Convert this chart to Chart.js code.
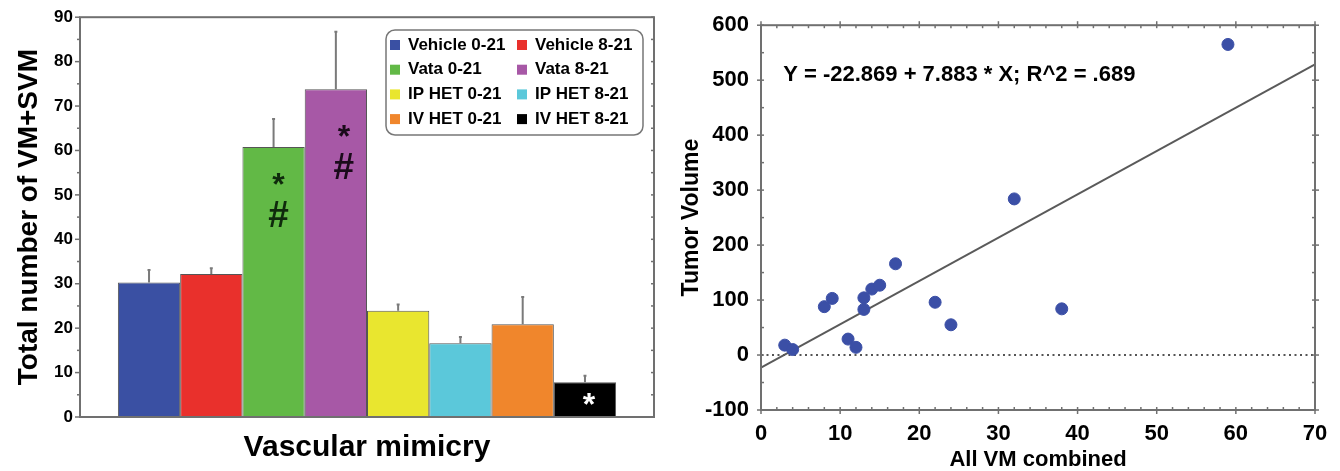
<!DOCTYPE html>
<html>
<head>
<meta charset="utf-8">
<script src="https://cdn.jsdelivr.net/npm/chart.js@4.4.0/dist/chart.umd.min.js"></script>
<style>
html, body { margin: 0; padding: 0; background: #fff; }
#wrap { position: relative; width: 1340px; height: 471px; }
#left { position: absolute; left: 0; top: 0; }
#right { position: absolute; left: 680px; top: 0; }
</style>
</head>
<body>
<div id="wrap">
  <canvas id="left" width="680" height="471"></canvas>
  <canvas id="right" width="660" height="471"></canvas>
</div>
<script>
// bar chart (left)
const groupLabels = ['Vascular mimicry'];
const seriesNames = ['Vehicle 0-21', 'Vehicle 8-21', 'Vata 0-21', 'Vata 8-21', 'IP HET 0-21', 'IP HET 8-21', 'IV HET 0-21', 'IV HET 8-21'];
const seriesMeans = [30.3, 32.2, 60.8, 73.8, 23.9, 16.6, 20.9, 7.8];
const seriesErrTop = [33.1, 33.5, 67.1, 86.7, 25.3, 18.0, 27.0, 9.3];
const seriesColors = ['#3a50a3', '#e9302c', '#62b946', '#a758a6', '#e9e62f', '#5bc8da', '#f0862c', '#000000'];

// scatter (right)
const vmCombined = [3, 4, 8, 9, 11, 12, 13, 13, 14, 15, 17, 22, 24, 32, 38, 59];
const tumorVolume = [18, 10, 88, 103, 29, 14, 104, 83, 120, 127, 166, 96, 55, 284, 84, 565];
const fitIntercept = -22.869;
const fitSlope = 7.883;
const fitR2 = '.689';
const fitRange = [0, 70];

const SANS = '"Liberation Sans", Arial, sans-serif';

// box + tick marks around the plot area
const framePlugin = {
    id: 'frame',
    afterDatasetsDraw(chart, args, o) {
        const { ctx, chartArea: a, scales } = chart;
        ctx.save();
        ctx.strokeStyle = o.color;
        ctx.lineWidth = o.width;
        ctx.strokeRect(a.left, a.top, a.right - a.left, a.bottom - a.top);
        const seg = function (x1, y1, x2, y2) {
            ctx.beginPath(); ctx.moveTo(x1, y1); ctx.lineTo(x2, y2); ctx.stroke();
        };
        const marks = function (scale, div) {
            const out = [];
            const t = scale.ticks.map(k => k.value);
            t.forEach(function (v, i) {
                out.push([scale.getPixelForValue(v), true]);
                if (i < t.length - 1) {
                    for (let j = 1; j < div; j++) out.push([scale.getPixelForValue(v + (t[i + 1] - v) * j / div), false]);
                }
            });
            return out;
        };
        ctx.lineWidth = 1.5;
        if (o.y) {
            marks(scales.y, o.y.div).forEach(function ([p, major]) {
                const L = major ? o.y.left[0] : o.y.left[1];
                const R = major ? o.y.right[0] : o.y.right[1];
                if (L[0] || L[1]) seg(a.left - L[0], p, a.left + L[1], p);
                if (R[0] || R[1]) seg(a.right - R[1], p, a.right + R[0], p);
            });
        }
        if (o.x) {
            marks(scales.x, o.x.div).forEach(function ([p, major]) {
                const B = major ? o.x.bottom[0] : o.x.bottom[1];
                const T = major ? o.x.top[0] : o.x.top[1];
                if (B[0] || B[1]) seg(p, a.bottom - B[1], p, a.bottom + B[0]);
                if (T[0] || T[1]) seg(p, a.top - T[0], p, a.top + T[1]);
            });
        }
        ctx.restore();
    }
};

// upper error whiskers
const errorBarPlugin = {
    id: 'errorBars',
    afterDatasetsDraw(chart, args, o) {
        const { ctx } = chart;
        ctx.save();
        ctx.strokeStyle = o.color;
        ctx.lineWidth = o.width;
        chart.data.datasets.forEach(function (ds, i) {
            const bar = chart.getDatasetMeta(i).data[0];
            const yTop = chart.scales.y.getPixelForValue(ds.errorTop);
            ctx.beginPath();
            ctx.moveTo(bar.x, bar.y);
            ctx.lineTo(bar.x, yTop);
            ctx.moveTo(bar.x - 1.5, yTop);
            ctx.lineTo(bar.x + 1.5, yTop);
            ctx.stroke();
        });
        ctx.restore();
    }
};

// significance marks inside bars
const markPlugin = {
    id: 'marks',
    afterDatasetsDraw(chart, args, o) {
        const { ctx } = chart;
        ctx.save();
        ctx.textAlign = 'center';
        ctx.textBaseline = 'alphabetic';
        o.items.forEach(function (t) {
            const bar = chart.getDatasetMeta(t.ds).data[0];
            ctx.font = t.font;
            ctx.fillStyle = t.color;
            const m = ctx.measureText(t.text);
            const cy = bar.y + t.below;
            ctx.fillText(t.text, bar.x + t.dx, cy + (m.actualBoundingBoxAscent - m.actualBoundingBoxDescent) / 2);
        });
        ctx.restore();
    }
};

// two-column legend in a rounded box
const boxLegendPlugin = {
    id: 'boxLegend',
    afterDatasetsDraw(chart, args, o) {
        const { ctx } = chart;
        ctx.save();
        ctx.beginPath();
        ctx.roundRect(o.x, o.y, o.w, o.h, o.r);
        ctx.fillStyle = '#fff';
        ctx.fill();
        ctx.strokeStyle = '#777';
        ctx.lineWidth = 1.5;
        ctx.stroke();
        ctx.font = o.font;
        ctx.textBaseline = 'middle';
        chart.data.datasets.forEach(function (ds, i) {
            const x = o.x + o.colX[i % 2];
            const y = o.y + o.rowY0 + Math.floor(i / 2) * o.rowH;
            ctx.fillStyle = ds.backgroundColor;
            ctx.fillRect(x, y - 5, 10, 10);
            ctx.fillStyle = '#000';
            ctx.fillText(ds.label, x + 18, y);
        });
        ctx.restore();
    }
};

// equation label
const equationPlugin = {
    id: 'equation',
    afterDatasetsDraw(chart, args, o) {
        const { ctx, scales } = chart;
        ctx.save();
        ctx.font = o.font;
        ctx.fillStyle = '#000';
        ctx.textBaseline = 'middle';
        ctx.fillText(o.text, scales.x.getPixelForValue(o.x), scales.y.getPixelForValue(o.y));
        ctx.restore();
    }
};

new Chart(document.getElementById('left'), {
    type: 'bar',
    data: {
        labels: groupLabels,
        datasets: seriesNames.map(function (name, i) {
            return {
                label: name,
                data: [seriesMeans[i]],
                errorTop: seriesErrTop[i],
                backgroundColor: seriesColors[i],
                borderColor: 'rgba(30,30,30,0.75)',
                borderWidth: 1,
                categoryPercentage: 0.868,
                barPercentage: 1
            };
        })
    },
    options: {
        responsive: false,
        animation: false,
        layout: { padding: { top: 16, right: 26, left: 0, bottom: 0 } },
        plugins: {
            legend: { display: false },
            tooltip: { enabled: false },
            frame: {
                color: '#707070', width: 2,
                y: { div: 2, left: [[5, 0], [3, 0]], right: [[0, 3], [0, 3]] }
            },
            errorBars: { color: '#7a7a7a', width: 2 },
            marks: {
                items: [
                    { ds: 2, text: '*', below: 32, dx: 5, font: 'bold 32px ' + SANS, color: '#0f2a0c' },
                    { ds: 2, text: '#', below: 67, dx: 5, font: 'bold 37px ' + SANS, color: '#0f2a0c' },
                    { ds: 3, text: '*', below: 42, dx: 8, font: 'bold 32px ' + SANS, color: '#1a0a1a' },
                    { ds: 3, text: '#', below: 77, dx: 8, font: 'bold 37px ' + SANS, color: '#1a0a1a' },
                    { ds: 7, text: '*', below: 17, dx: 4, font: 'bold 32px ' + SANS, color: '#ffffff' }
                ]
            },
            boxLegend: {
                x: 386, y: 30, w: 257, h: 105, r: 9,
                colX: [4, 131], rowY0: 15, rowH: 24.7,
                font: 'bold 17px ' + SANS
            }
        },
        scales: {
            x: {
                grid: { display: false },
                border: { display: false },
                ticks: { color: '#000', padding: 5, font: { family: SANS, size: 30, weight: 'bold' } },
                afterFit: function (s) { s.height = 54; }
            },
            y: {
                min: 0, max: 90,
                grid: { display: false, drawTicks: false },
                border: { display: false },
                ticks: { stepSize: 10, color: '#000', padding: 7, font: { family: SANS, size: 17, weight: 'bold' } },
                title: {
                    display: true, text: 'Total number of VM+SVM', color: '#000',
                    padding: { top: 15, bottom: 0 },
                    font: { family: SANS, size: 28, weight: 'bold', lineHeight: 1 }
                },
                afterFit: function (s) { s.width = 80; }
            }
        }
    },
    plugins: [errorBarPlugin, framePlugin, markPlugin, boxLegendPlugin]
});

new Chart(document.getElementById('right'), {
    type: 'scatter',
    data: {
        datasets: [
            {
                label: 'Tumor volume',
                data: vmCombined.map((x, i) => ({ x: x, y: tumorVolume[i] })),
                backgroundColor: '#3b4fa6',
                borderColor: '#3b4fa6',
                pointRadius: 6,
                order: 0
            },
            {
                type: 'line',
                label: 'fit',
                data: fitRange.map(x => ({ x: x, y: fitIntercept + fitSlope * x })),
                borderColor: '#5a5a5a',
                borderWidth: 2,
                pointRadius: 0,
                order: 1
            },
            {
                type: 'line',
                label: 'zero',
                data: fitRange.map(x => ({ x: x, y: 0 })),
                borderColor: '#555',
                borderWidth: 2,
                borderDash: [2, 3.5],
                pointRadius: 0,
                order: 2
            }
        ]
    },
    options: {
        responsive: false,
        animation: false,
        layout: { padding: { top: 18, right: 25, left: 0, bottom: 0 } },
        plugins: {
            legend: { display: false },
            tooltip: { enabled: false },
            frame: {
                color: '#707070', width: 2,
                y: { div: 2, left: [[4, 3], [0, 3]], right: [[4, 3], [0, 3]] },
                x: { div: 5, bottom: [[4, 3], [0, 3]], top: [[4, 3], [0, 3]] }
            },
            equation: {
                text: 'Y = ' + fitIntercept + ' + ' + fitSlope + ' * X; R^2 = ' + fitR2,
                x: 2.8, y: 510,
                font: 'bold 22px ' + SANS
            }
        },
        scales: {
            x: {
                type: 'linear', min: 0, max: 70,
                grid: { display: false, drawTicks: false },
                border: { display: false },
                ticks: { stepSize: 10, color: '#000', padding: 11, font: { family: SANS, size: 22, weight: 'bold' } },
                title: {
                    display: true, text: 'All VM combined', color: '#000',
                    padding: { top: 0, bottom: 0 },
                    font: { family: SANS, size: 22, weight: 'bold', lineHeight: 1 }
                },
                afterFit: function (s) { s.height = 61; }
            },
            y: {
                min: -100, max: 600,
                grid: { display: false, drawTicks: false },
                border: { display: false },
                ticks: { stepSize: 100, color: '#000', padding: 12, font: { family: SANS, size: 22, weight: 'bold' } },
                title: {
                    display: true, text: 'Tumor Volume', color: '#000',
                    padding: { top: 0, bottom: 0 },
                    font: { family: SANS, size: 23, weight: 'bold', lineHeight: 1 }
                },
                afterFit: function (s) { s.width = 81; }
            }
        }
    },
    plugins: [framePlugin, equationPlugin]
});
</script>
</body>
</html>
